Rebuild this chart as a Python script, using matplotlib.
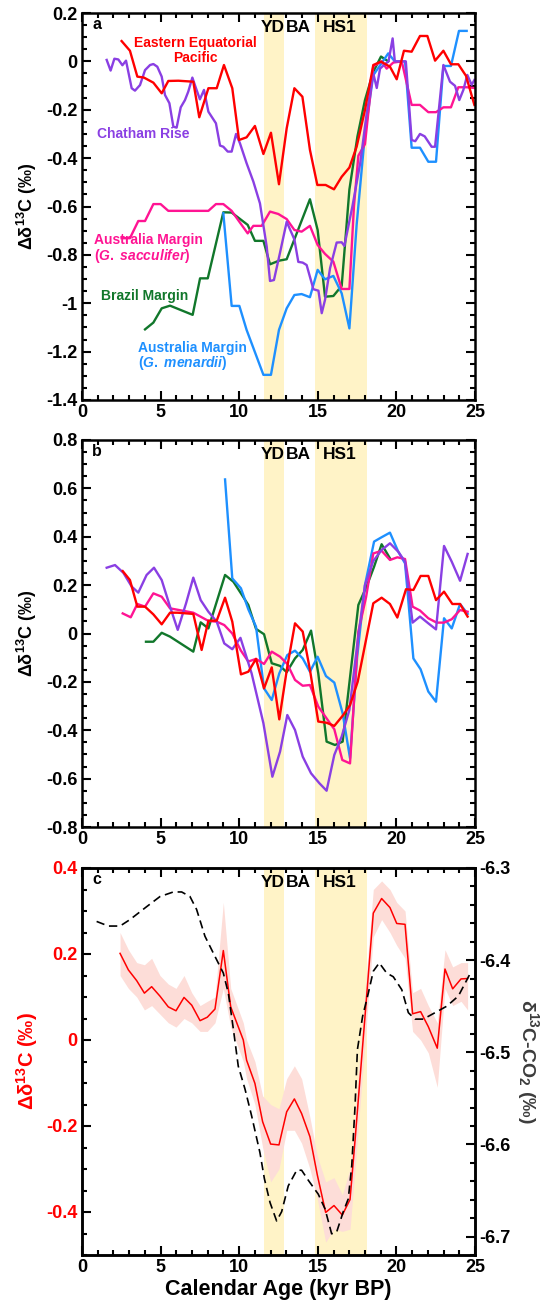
import matplotlib
matplotlib.use("Agg")
import matplotlib.pyplot as plt
from matplotlib.ticker import MultipleLocator, FuncFormatter
from matplotlib.transforms import blended_transform_factory

plt.rcParams['font.family'] = ['Liberation Sans', 'DejaVu Sans']
plt.rcParams['font.weight'] = 'bold'
plt.rcParams['axes.unicode_minus'] = False
plt.rcParams['mathtext.fontset'] = 'custom'
plt.rcParams['mathtext.rm'] = 'Liberation Sans:bold'
plt.rcParams['mathtext.bf'] = 'Liberation Sans:bold'
plt.rcParams['mathtext.it'] = 'Liberation Sans:italic:bold'
plt.rcParams['mathtext.default'] = 'rm'
plt.rcParams['lines.scale_dashes'] = False

# ---------------- data ----------------
# Panel a
a_eep_x = [2.52, 3.05, 3.52, 3.94, 4.54, 5.07, 5.49, 6.13, 7.08, 7.46, 8.04, 8.57, 9.03, 9.56, 9.99, 10.47, 11.0, 11.54, 12.02, 12.53, 13.02, 13.51, 14.02, 14.5, 14.97, 15.5, 16.03, 16.52, 17.01, 17.47, 18.0, 18.53, 19.02, 19.59, 20.02, 20.48, 20.97, 21.5, 21.97, 22.46, 22.99, 23.47, 23.94, 24.43, 24.96]
a_eep_y = [0.084, 0.044, -0.063, -0.067, -0.088, -0.132, -0.081, -0.08, -0.084, -0.231, -0.111, -0.111, -0.015, -0.111, -0.325, -0.314, -0.267, -0.383, -0.295, -0.508, -0.277, -0.111, -0.146, -0.366, -0.511, -0.511, -0.529, -0.477, -0.439, -0.353, -0.201, -0.015, -0.001, -0.022, -0.074, 0.044, 0.04, 0.105, 0.105, 0.003, 0.044, -0.012, -0.012, -0.06, -0.18]

a_cr_x = [1.57, 1.82, 2.06, 2.31, 2.57, 2.8, 3.16, 3.37, 3.69, 4.01, 4.33, 4.54, 4.79, 5.07, 5.28, 5.56, 5.81, 6.02, 6.28, 6.55, 6.76, 7.02, 7.23, 7.5, 7.76, 8.04, 8.52, 8.78, 8.99, 9.27, 9.52, 9.8, 10.05, 10.47, 10.9, 11.32, 11.75, 11.96, 12.21, 12.59, 13.02, 13.51, 13.76, 14.04, 14.29, 14.72, 15.04, 15.25, 15.46, 15.78, 16.2, 16.52, 16.69, 17.2, 17.7, 18.1, 18.53, 18.75, 18.96, 19.3, 19.5, 19.76, 19.9, 20.3, 20.6, 20.97, 21.2, 21.5, 21.8, 22.24, 22.46, 22.99, 23.41, 23.73, 24.0, 24.26, 24.51, 24.79, 24.96]
a_cr_y = [0.006, -0.038, 0.011, 0.008, -0.016, 0.003, -0.111, -0.121, -0.098, -0.036, -0.015, -0.011, -0.022, -0.063, -0.139, -0.173, -0.27, -0.274, -0.19, -0.16, -0.125, -0.067, -0.107, -0.157, -0.118, -0.208, -0.256, -0.348, -0.353, -0.373, -0.373, -0.3, -0.339, -0.421, -0.497, -0.587, -0.766, -0.908, -0.904, -0.793, -0.663, -0.736, -0.829, -0.832, -0.842, -0.942, -0.948, -1.041, -0.986, -0.855, -0.749, -0.748, -0.763, -0.6, -0.42, -0.22, -0.05, -0.11, -0.03, -0.01, 0.0, 0.095, 0.0, 0.0, 0.0, -0.325, -0.33, -0.3, -0.31, -0.353, -0.353, -0.015, -0.084, -0.101, -0.16, -0.118, -0.056, -0.097, -0.077]

a_ams_x = [2.52, 3.05, 3.58, 4.01, 4.54, 5.0, 5.49, 8.04, 8.52, 8.99, 9.52, 10.01, 10.54, 10.9, 11.43, 11.96, 12.49, 13.02, 13.51, 13.97, 14.5, 14.99, 15.46, 15.99, 16.52, 17.01, 17.3, 17.58, 18.0, 18.53, 19.06, 19.38, 19.8, 20.34, 20.97, 21.5, 22.03, 22.52, 22.99, 23.47, 23.94, 24.47, 24.96]
a_ams_y = [-0.731, -0.731, -0.66, -0.66, -0.59, -0.59, -0.618, -0.618, -0.59, -0.59, -0.618, -0.663, -0.711, -0.68, -0.68, -0.621, -0.631, -0.652, -0.697, -0.704, -0.68, -0.759, -0.796, -0.828, -0.941, -0.941, -0.6, -0.39, -0.342, -0.02, 0.0, -0.03, -0.005, 0.0, -0.18, -0.18, -0.21, -0.21, -0.19, -0.19, -0.107, -0.107, -0.11]

a_bm_x = [4.01, 4.54, 5.07, 5.6, 7.04, 7.51, 8.0, 8.99, 9.52, 10.54, 11.0, 11.54, 11.96, 12.53, 13.02, 14.5, 14.99, 15.46, 15.99, 16.52, 17.01, 17.52, 18.0, 18.53, 19.02, 19.48]
a_bm_y = [-1.108, -1.08, -1.021, -1.01, -1.048, -0.897, -0.897, -0.624, -0.625, -0.676, -0.742, -0.742, -0.839, -0.824, -0.818, -0.57, -0.697, -0.973, -0.97, -0.928, -0.53, -0.311, -0.16, -0.043, 0.02, 0.0]

a_amm_x = [8.99, 9.52, 10.01, 10.47, 11.54, 12.02, 12.53, 13.02, 13.51, 13.97, 14.5, 14.99, 15.46, 15.99, 16.52, 17.01, 17.47, 18.0, 18.53, 19.06, 19.48, 19.9, 20.55, 20.97, 21.5, 22.03, 22.52, 22.99, 23.47, 23.98, 24.47]
a_amm_y = [-0.628, -1.011, -1.011, -1.11, -1.296, -1.296, -1.11, -1.021, -0.966, -0.962, -0.975, -0.862, -0.901, -0.887, -0.959, -1.104, -0.676, -0.3, -0.057, -0.007, 0.033, 0.0, 0.0, -0.357, -0.357, -0.415, -0.415, -0.019, -0.019, 0.126, 0.126]

# Panel b
b_eep_x = [2.59, 3.05, 3.52, 4.01, 4.54, 5.07, 5.6, 6.09, 7.08, 7.61, 8.04, 8.57, 9.1, 9.56, 10.11, 10.58, 11.07, 11.58, 12.07, 12.55, 13.06, 13.55, 14.04, 14.5, 15.03, 15.56, 16.05, 16.62, 17.05, 17.54, 18.53, 19.06, 19.59, 20.06, 20.61, 21.08, 21.54, 22.03, 22.52, 23.03, 23.56, 24.05, 24.53]
b_eep_y = [0.258, 0.221, 0.111, 0.111, 0.079, 0.038, 0.086, 0.086, 0.081, -0.068, 0.053, 0.053, 0.148, 0.049, -0.169, -0.158, -0.105, -0.227, -0.14, -0.355, -0.137, 0.042, 0.008, -0.15, -0.364, -0.369, -0.382, -0.337, -0.296, -0.199, 0.125, 0.148, 0.122, 0.066, 0.183, 0.18, 0.238, 0.238, 0.138, 0.173, 0.122, 0.122, 0.07]

b_cr_x = [1.57, 2.1, 2.63, 3.16, 3.58, 4.11, 4.58, 5.07, 5.6, 6.09, 6.62, 7.08, 7.55, 8.04, 8.57, 9.05, 9.56, 10.08, 10.79, 11.54, 12.11, 12.6, 13.06, 13.55, 14.04, 14.57, 15.1, 15.56, 16.05, 16.52, 17.01, 17.5, 18.0, 18.53, 19.06, 19.59, 20.12, 20.55, 21.03, 21.5, 22.03, 22.52, 23.03, 23.52, 24.05, 24.53]
b_cr_y = [0.272, 0.283, 0.251, 0.194, 0.169, 0.242, 0.272, 0.221, 0.111, 0.015, 0.125, 0.231, 0.138, 0.09, 0.049, -0.041, -0.065, -0.018, -0.165, -0.371, -0.592, -0.488, -0.337, -0.399, -0.509, -0.578, -0.619, -0.65, -0.502, -0.426, -0.316, -0.05, 0.2, 0.3, 0.345, 0.373, 0.338, 0.297, 0.045, 0.07, 0.042, 0.017, 0.362, 0.297, 0.218, 0.329]

b_ams_x = [2.59, 3.1, 3.52, 4.01, 4.54, 5.07, 5.6, 7.08, 8.04, 8.57, 9.05, 9.56, 10.1, 10.58, 11.07, 11.58, 12.07, 12.6, 13.06, 13.55, 14.04, 14.5, 15.03, 15.56, 16.05, 16.56, 17.05, 17.58, 18.07, 18.53, 19.06, 19.59, 20.06, 20.55, 21.03, 21.5, 22.03, 22.56, 23.03, 23.52, 24.05, 24.53]
b_ams_y = [0.083, 0.067, 0.122, 0.111, 0.166, 0.152, 0.104, 0.086, 0.052, 0.049, 0.035, 0.0, -0.07, -0.116, -0.105, -0.126, -0.075, -0.096, -0.126, -0.192, -0.216, -0.213, -0.302, -0.351, -0.396, -0.523, -0.537, 0.008, 0.15, 0.331, 0.342, 0.304, 0.315, 0.308, 0.111, 0.095, 0.063, 0.045, 0.045, 0.059, 0.097, 0.09]

b_bm_x = [4.07, 4.54, 5.07, 5.6, 7.08, 7.55, 8.04, 9.1, 9.63, 10.11, 10.58, 11.07, 11.58, 12.07, 12.6, 13.02, 13.55, 14.04, 14.57, 15.03, 15.56, 16.09, 16.58, 17.58, 18.1, 18.58, 19.06, 19.59]
b_bm_y = [-0.034, -0.034, 0.003, -0.013, -0.075, 0.046, 0.021, 0.242, 0.214, 0.166, 0.118, 0.019, -0.003, -0.123, -0.134, -0.16, -0.103, -0.068, 0.012, -0.165, -0.447, -0.461, -0.447, 0.118, 0.194, 0.276, 0.369, 0.311]

b_amm_x = [9.1, 9.56, 10.11, 10.58, 11.07, 11.58, 12.07, 12.55, 13.06, 13.55, 14.04, 14.5, 14.99, 15.52, 16.05, 16.58, 17.05, 17.5, 18.0, 18.58, 19.06, 19.59, 20.12, 20.55, 21.08, 21.54, 22.03, 22.52, 23.03, 23.52, 24.05, 24.53]
b_amm_y = [0.637, 0.228, 0.187, 0.1, 0.028, -0.227, -0.275, -0.165, -0.089, -0.071, -0.103, -0.158, -0.096, -0.176, -0.203, -0.33, -0.516, -0.1, 0.2, 0.38, 0.398, 0.417, 0.338, 0.29, -0.103, -0.148, -0.24, -0.282, 0.063, 0.021, 0.122, 0.081]

# Panel c: stacked record (left axis) and atmospheric CO2 d13C (right axis)
c_x = [2.42, 2.95, 3.48, 3.97, 4.43, 4.96, 5.49, 5.98, 6.49, 6.98, 7.51, 7.97, 8.46, 8.99, 9.46, 10.26, 10.47, 11.0, 11.49, 12.0, 12.53, 13.02, 13.51, 13.97, 14.5, 14.97, 15.5, 16.03, 16.56, 17.05, 17.37, 18.53, 19.06, 19.59, 20.02, 20.55, 21.03, 21.54, 22.03, 22.6, 23.09, 23.58, 24.11, 24.53]
c_y = [0.2015, 0.163, 0.138, 0.109, 0.124, 0.102, 0.077, 0.068, 0.099, 0.081, 0.045, 0.053, 0.072, 0.208, 0.077, 0.0, -0.047, -0.101, -0.19, -0.242, -0.244, -0.167, -0.137, -0.171, -0.225, -0.314, -0.401, -0.385, -0.407, -0.371, -0.233, 0.295, 0.329, 0.308, 0.271, 0.269, 0.061, 0.066, 0.031, -0.019, 0.165, 0.119, 0.142, 0.143]
c_upper = [0.25, 0.21, 0.18, 0.175, 0.19, 0.15, 0.13, 0.12, 0.15, 0.11, 0.08, 0.09, 0.10, 0.32, 0.12, 0.04, 0.0, -0.05, -0.13, -0.15, -0.16, -0.09, -0.06, -0.09, -0.18, -0.27, -0.33, -0.32, -0.36, -0.30, -0.17, 0.35, 0.37, 0.35, 0.32, 0.30, 0.11, 0.12, 0.08, 0.04, 0.21, 0.17, 0.18, 0.18]
c_lower = [0.15, 0.12, 0.10, 0.07, 0.08, 0.06, 0.04, 0.03, 0.05, 0.04, 0.02, 0.02, 0.04, 0.12, 0.03, -0.05, -0.09, -0.15, -0.25, -0.33, -0.30, -0.21, -0.21, -0.24, -0.30, -0.37, -0.47, -0.44, -0.445, -0.44, -0.30, 0.24, 0.28, 0.25, 0.22, 0.19, 0.02, 0.0, -0.03, -0.11, 0.12, 0.08, 0.09, 0.07]

co2_x = [0.93, 1.68, 2.42, 3.05, 4.11, 4.96, 5.81, 6.34, 6.87, 7.29, 7.82, 8.46, 8.99, 9.31, 9.63, 9.94, 10.37, 10.79, 11.32, 11.6, 11.96, 12.38, 12.7, 13.12, 13.66, 13.97, 14.4, 15.03, 15.46, 15.88, 16.2, 16.62, 16.94, 17.16, 17.37, 17.52, 17.85, 18.21, 18.53, 18.91, 19.38, 19.8, 20.34, 20.76, 21.18, 21.71, 22.46, 23.2, 23.94, 24.68]
co2_y = [-6.358, -6.363, -6.363, -6.356, -6.342, -6.331, -6.326, -6.326, -6.331, -6.345, -6.374, -6.396, -6.414, -6.436, -6.475, -6.515, -6.54, -6.569, -6.609, -6.637, -6.663, -6.683, -6.673, -6.645, -6.628, -6.628, -6.639, -6.654, -6.67, -6.697, -6.695, -6.673, -6.659, -6.623, -6.558, -6.497, -6.461, -6.436, -6.412, -6.403, -6.414, -6.418, -6.432, -6.457, -6.464, -6.464, -6.457, -6.45, -6.439, -6.415]

yd_span = (11.6, 12.87)
hs1_span = (14.8, 18.1)
event_labels = ['YD', 'BA', 'HS1']
event_label_x = [12.15, 13.74, 16.41]

C_RED = '#FF0000'
C_PUR = '#8A3FE3'
C_MAG = '#FF1493'
C_GRN = '#11772B'
C_BLU = '#1E90FF'
C_BAND = '#FFF3C7'
C_SHADE = '#FDDDD8'

# ---------------- figure ----------------
W_PX, H_PX = 543, 1306
fig = plt.figure(figsize=(W_PX / 100, H_PX / 100), dpi=100)
L = 82 / W_PX
WD = 393 / W_PX
HT = 387 / H_PX
axa = fig.add_axes([L, 1 - 400 / H_PX, WD, HT])
axb = fig.add_axes([L, 1 - 827 / H_PX, WD, HT])
axc = fig.add_axes([L, 1 - 1255 / H_PX, WD, HT])

TICK_FS = 13

def fmt(v, pos):
    s = f'{v:.2f}'.rstrip('0').rstrip('.')
    if s in ('-0', '-0.'):
        s = '0'
    return s

def style(ax, ylo, yhi, ymaj, ymin, right=True):
    ax.set_xlim(0, 25)
    ax.set_ylim(ylo, yhi)
    ax.xaxis.set_major_locator(MultipleLocator(5))
    ax.xaxis.set_minor_locator(MultipleLocator(1))
    ax.yaxis.set_major_locator(MultipleLocator(ymaj))
    ax.yaxis.set_minor_locator(MultipleLocator(ymin))
    ax.yaxis.set_major_formatter(FuncFormatter(fmt))
    ax.tick_params(which='both', direction='in', top=True, right=right, width=1.5)
    ax.tick_params(which='major', length=6.5, labelsize=TICK_FS, pad=3)
    ax.tick_params(which='minor', length=3.5)
    for sp in ax.spines.values():
        sp.set_linewidth(1.8)
    for lab in ax.get_xticklabels() + ax.get_yticklabels():
        lab.set_fontweight('bold')
    for lo, hi in (yd_span, hs1_span):
        ax.axvspan(lo, hi, color=C_BAND, lw=0, zorder=0)
    tr = blended_transform_factory(ax.transData, ax.transAxes)
    for t, x in zip(event_labels, event_label_x):
        ax.text(x, 0.962, t, transform=tr, ha='center', va='center', fontsize=12.5, fontweight='bold')

LW = 1.7
# ---- panel a
style(axa, -1.4, 0.2, 0.2, 0.05)
axa.plot(a_bm_x, a_bm_y, color=C_GRN, lw=LW)
axa.plot(a_amm_x, a_amm_y, color=C_BLU, lw=LW)
axa.plot(a_ams_x, a_ams_y, color=C_MAG, lw=LW)
axa.plot(a_cr_x, a_cr_y, color=C_PUR, lw=LW)
axa.plot(a_eep_x, a_eep_y, color=C_RED, lw=LW)
axa.text(0.038, 0.969, 'a', transform=axa.transAxes, ha='center', va='center', fontsize=11.5, fontweight='bold')
axa.text(7.19, 0.045, 'Eastern Equatorial\nPacific', color=C_RED, ha='center', va='center', fontsize=10, fontweight='bold', linespacing=1.15)
axa.text(0.95, -0.3, 'Chatham Rise', color=C_PUR, ha='left', va='center', fontsize=10, fontweight='bold')
axa.text(0.75, -0.776, 'Australia Margin\n($\\mathit{G.\\ sacculifer}$)', color=C_MAG, ha='left', va='center', fontsize=10, fontweight='bold', linespacing=0.95)
axa.text(1.2, -0.97, 'Brazil Margin', color=C_GRN, ha='left', va='center', fontsize=10, fontweight='bold')
axa.text(3.55, -1.22, 'Australia Margin\n($\\mathit{G.\\ menardii}$)', color=C_BLU, ha='left', va='center', fontsize=10, fontweight='bold', linespacing=0.95)
axa.set_ylabel('Δδ$^{13}$C (‰)', fontsize=13, fontweight='bold', va='center')
axa.yaxis.set_label_coords(-0.14, 0.5)

# ---- panel b
style(axb, -0.8, 0.8, 0.2, 0.05)
axb.plot(b_bm_x, b_bm_y, color=C_GRN, lw=LW)
axb.plot(b_amm_x, b_amm_y, color=C_BLU, lw=LW)
axb.plot(b_ams_x, b_ams_y, color=C_MAG, lw=LW)
axb.plot(b_cr_x, b_cr_y, color=C_PUR, lw=LW)
axb.plot(b_eep_x, b_eep_y, color=C_RED, lw=LW)
axb.text(0.038, 0.969, 'b', transform=axb.transAxes, ha='center', va='center', fontsize=11.5, fontweight='bold')
axb.set_ylabel('Δδ$^{13}$C (‰)', fontsize=13, fontweight='bold', va='center')
axb.yaxis.set_label_coords(-0.14, 0.5)

# ---- panel c
style(axc, -0.5, 0.4, 0.2, 0.05, right=False)
axc.tick_params(axis='y', labelcolor=C_RED, which='both')
axc.fill_between(c_x, c_lower, c_upper, color=C_SHADE, lw=0, zorder=1)
axc.plot(c_x, c_y, color=C_RED, lw=1.1, zorder=2)
axc.text(0.038, 0.969, 'c', transform=axc.transAxes, ha='center', va='center', fontsize=11.5, fontweight='bold')
axc.set_ylabel('Δδ$^{13}$C (‰)', fontsize=14.5, fontweight='bold', color=C_RED, va='center')
axc.yaxis.set_label_coords(-0.14, 0.5)
axc.set_xlabel('Calendar Age (kyr BP)', fontsize=15.5, fontweight='bold', labelpad=2)

axr = axc.twinx()
axr.set_ylim(-6.72, -6.3)
axr.yaxis.set_major_locator(MultipleLocator(0.1))
axr.yaxis.set_minor_locator(MultipleLocator(0.02))
axr.yaxis.set_major_formatter(FuncFormatter(fmt))
axr.tick_params(which='both', direction='in', width=1.5)
axr.tick_params(which='major', length=6.5, labelsize=TICK_FS, pad=3)
axr.tick_params(which='minor', length=3.5)
for lab in axr.get_yticklabels():
    lab.set_fontweight('bold')
for sp in axr.spines.values():
    sp.set_linewidth(1.8)
axr.plot(co2_x, co2_y, color='black', lw=1.2, dashes=(6, 3.5))
axr.set_ylabel('δ$^{13}$C-CO$_2$ (‰)', fontsize=14, fontweight='bold', color='#3C3C3C', rotation=270, va='center')
axr.yaxis.set_label_coords(1.136, 0.5)

fig.savefig('out.png', dpi=100)
